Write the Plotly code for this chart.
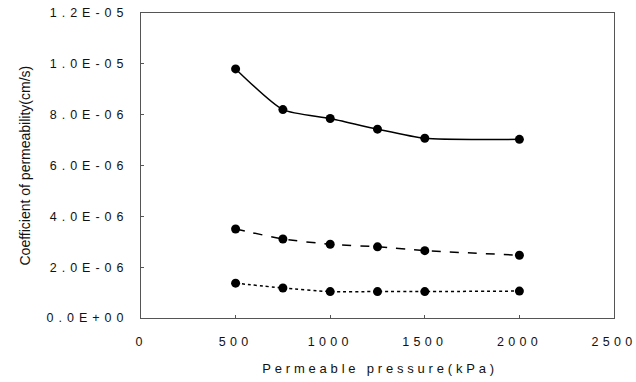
import plotly.graph_objects as go

pressure = [500, 750, 1000, 1250, 1500, 2000]
series_solid = [9.8e-6, 8.2e-6, 7.85e-6, 7.43e-6, 7.07e-6, 7.03e-6]
series_dash = [3.5e-6, 3.11e-6, 2.9e-6, 2.8e-6, 2.65e-6, 2.47e-6]
series_dot = [1.37e-6, 1.18e-6, 1.04e-6, 1.04e-6, 1.04e-6, 1.06e-6]

y_tickvals = [0, 2e-6, 4e-6, 6e-6, 8e-6, 1e-5, 1.2e-5]
y_ticktext = ["0.0E+00", "2.0E-06", "4.0E-06", "6.0E-06", "8.0E-06", "1.0E-05", "1.2E-05"]
x_tickvals = [0, 500, 1000, 1500, 2000, 2500]
x_title = "Permeable pressure(kPa)"
y_title = "Coefficient of permeability(cm/s)"

fig = go.Figure()
for ys, dash in [(series_solid, "solid"), (series_dash, "dash"), (series_dot, "dot")]:
    fig.add_trace(go.Scatter(
        x=pressure, y=ys, mode="lines+markers",
        line=dict(color="black", width=1.5, dash=dash, shape="spline", smoothing=0.6),
        marker=dict(color="black", size=9),
        showlegend=False,
    ))

font = dict(family="Liberation Sans, Arial, sans-serif", color="#111")
fig.update_layout(
    width=636, height=382,
    margin=dict(l=141, r=22, t=13, b=64),
    paper_bgcolor="white", plot_bgcolor="white",
    font=font,
    annotations=[
        dict(text=x_title, xref="paper", yref="paper", x=0.5, y=0, xanchor="center", yanchor="middle",
             xshift=2, yshift=-(368 - 318), showarrow=False, font=dict(size=13)),
        dict(text=y_title, xref="paper", yref="paper", x=0, y=0.5, xanchor="center", yanchor="middle",
             xshift=-(141 - 24), textangle=-90, showarrow=False, font=dict(size=14)),
    ],
)
fig.update_xaxes(
    range=[0, 2500], tickvals=x_tickvals, showgrid=False, zeroline=False,
    showline=True, linecolor="#555", linewidth=1, mirror=True,
    ticks="inside", ticklen=3, tickcolor="#555", automargin=False,
    tickfont=dict(size=12.5), ticklabelstandoff=12,
)
fig.update_yaxes(
    range=[0, 1.2e-5], tickvals=y_tickvals, ticktext=y_ticktext, showgrid=False, zeroline=False,
    showline=True, linecolor="#555", linewidth=1, mirror=True,
    ticks="inside", ticklen=3, tickcolor="#555", automargin=False,
    tickfont=dict(size=12.5), ticklabelstandoff=9,
)

post = """
document.body.style.margin = '0';
var s = document.createElement('style');
s.innerHTML = 'body{margin:0;} .xtick text { letter-spacing: 4.3px; } .ytick text { letter-spacing: 5px; } .annotation[data-index="0"] text { letter-spacing: 3.8px; }';
document.head.appendChild(s);
"""
fig.write_html("out.html", post_script=post, config={"displayModeBar": False})
